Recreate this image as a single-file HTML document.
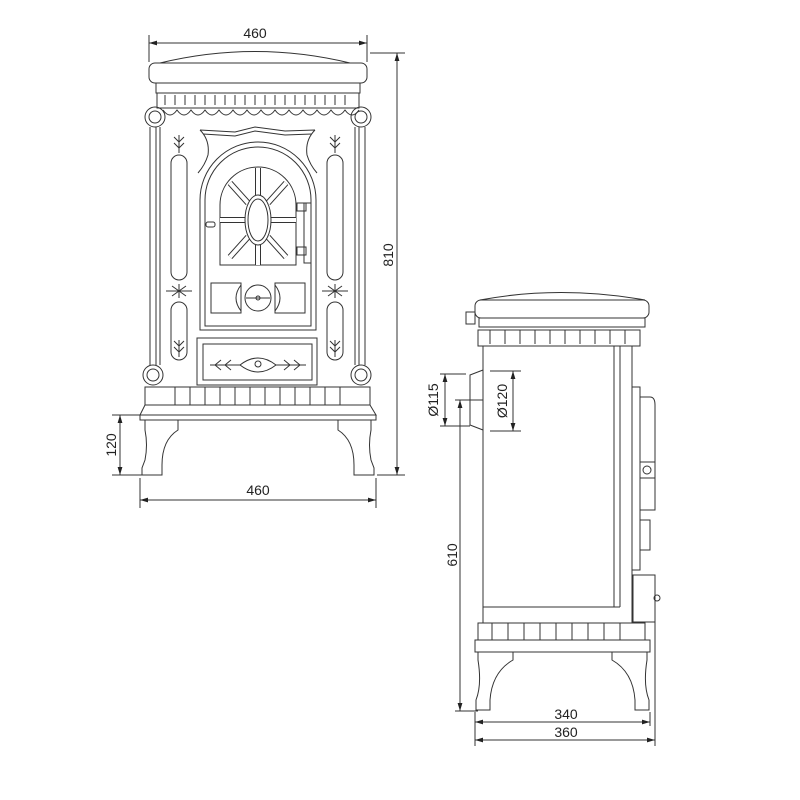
<!DOCTYPE html>
<html><head><meta charset="utf-8"><style>
html,body{margin:0;padding:0;background:#fff;}
svg{display:block}
text{font-family:"Liberation Sans",sans-serif;font-size:14px;fill:#222}
</style></head><body>
<svg width="800" height="800" viewBox="0 0 800 800" xmlns="http://www.w3.org/2000/svg">
<defs>
<marker id="a" viewBox="0 0 10 10" refX="10" refY="5" markerWidth="8" markerHeight="8" orient="auto-start-reverse"><path d="M0,2 L10,5 L0,8 z" fill="#222"/></marker>
</defs>
<g fill="none" stroke="#333" stroke-width="1">
<line x1="149" y1="43" x2="367" y2="43" marker-start="url(#a)" marker-end="url(#a)"/>
<line x1="149" y1="35" x2="149" y2="62"/><line x1="367" y1="35" x2="367" y2="62"/>
<line x1="370" y1="53" x2="405" y2="53"/><line x1="377" y1="475" x2="405" y2="475"/>
<line x1="397" y1="53" x2="397" y2="475" marker-start="url(#a)" marker-end="url(#a)"/>
<line x1="112" y1="415" x2="145" y2="415"/><line x1="112" y1="475" x2="145" y2="475"/>
<line x1="120" y1="415" x2="120" y2="475" marker-start="url(#a)" marker-end="url(#a)"/>
<line x1="140" y1="478" x2="140" y2="508"/><line x1="376" y1="478" x2="376" y2="508"/>
<line x1="140" y1="500" x2="376" y2="500" marker-start="url(#a)" marker-end="url(#a)"/>
<path d="M160,63 Q255,40 350,63"/>
<rect x="149" y="63" width="218" height="20" rx="6"/>
<rect x="156" y="83" width="204" height="10"/>
<rect x="157" y="93" width="202" height="15"/>
<path d="M165,95v10M175,95v10M185,95v10M195,95v10M205,95v10M215,95v10M225,95v10M235,95v10M245,95v10M255,95v10M265,95v10M275,95v10M285,95v10M295,95v10M305,95v10M315,95v10M325,95v10M335,95v10M345,95v10"/>
<path d="M163,110 q7,10 14,0 q7,10 14,0 q7,10 14,0 q7,10 14,0 q7,10 14,0 q7,10 14,0 q7,10 14,0 q7,10 14,0 q7,10 14,0 q7,10 14,0 q7,10 14,0 q7,10 14,0 q7,10 14,0 q7,10 14,0"/>
<circle cx="155" cy="117" r="10"/><circle cx="155" cy="117" r="6"/>
<circle cx="361" cy="117" r="10"/><circle cx="361" cy="117" r="6"/>
<circle cx="153" cy="375" r="10"/><circle cx="153" cy="375" r="6"/>
<circle cx="361" cy="375" r="10"/><circle cx="361" cy="375" r="6"/>
<path d="M150,127V365M156,127V365M160,127V365"/>
<path d="M355,127V365M359,127V365M365,127V365"/>
<rect x="171" y="155" width="16" height="125" rx="8"/>
<rect x="171" y="302" width="16" height="58" rx="8"/>
<rect x="327" y="155" width="16" height="125" rx="8"/>
<rect x="327" y="302" width="16" height="58" rx="8"/>
<path d="M179,135v18M179,142l-5,-5M179,142l5,-5M179,148l-5,-5M179,148l5,-5"/>
<path d="M335,135v18M335,142l-5,-5M335,142l5,-5M335,148l-5,-5M335,148l5,-5"/>
<path d="M166,291h26M179,284v14M172,286l14,10M186,286l-14,10"/>
<path d="M322,291h26M335,284v14M328,286l14,10M342,286l-14,10"/>
<path d="M179,340v17M179,346l-5,-5M179,346l5,-5M179,352l-5,-5M179,352l5,-5"/>
<path d="M335,340v17M335,346l-5,-5M335,346l5,-5M335,352l-5,-5M335,352l5,-5"/>
<path d="M200,130 L235,132 L255,127 L285,131 L315,130 M200,130 q10,10 8,25 q-3,10 -10,18 M315,130 q-10,10 -8,25 q3,10 10,18"/>
<path d="M203,134 L235,136 L255,131 L285,135 L312,134"/>
<path d="M200,330 V200 A58,58 0 0 1 316,200 V330 Z"/>
<path d="M205,326 V200 A53,53 0 0 1 311,200 V326 Z"/>
<path d="M220,265 V205 A38,38 0 0 1 296,205 V265 Z"/>
<path d="M258,168v27M258,245v20M220,220h25M271,220h25M230,183l18,20M286,183l-18,20M230,257l18,-20M286,257l-18,-20" stroke-width="6"/>
<path d="M258,168v27M258,245v20M220,220h25M271,220h25M230,183l18,20M286,183l-18,20M230,257l18,-20M286,257l-18,-20" stroke="#fff" stroke-width="4"/>
<ellipse cx="258" cy="220" rx="13" ry="25" fill="#fff"/>
<ellipse cx="258" cy="220" rx="10" ry="21"/>
<rect x="297" y="203" width="9" height="8"/><rect x="297" y="247" width="9" height="8"/>
<rect x="304" y="203" width="7" height="60"/>
<rect x="206" y="222" width="9" height="5" rx="2"/>
<rect x="211" y="283" width="30" height="30"/><rect x="275" y="283" width="30" height="30"/>
<path d="M241,285 q-10,13 0,26 M275,285 q10,13 0,26"/>
<circle cx="258" cy="298" r="13"/><path d="M246,298h24"/><circle cx="258" cy="298" r="2"/>
<rect x="197" y="338" width="120" height="47"/>
<rect x="203" y="344" width="109" height="36"/>
<path d="M210,365h30M215,365l6,-5M215,365l6,5M225,365l6,-5M225,365l6,5M276,365h30M300,365l-6,-5M300,365l-6,5M290,365l-6,-5M290,365l-6,5"/>
<path d="M240,365 q18,-14 36,0 q-18,14 -36,0"/><circle cx="258" cy="364" r="3"/>
<rect x="145" y="387" width="225" height="18"/>
<path d="M175,387v18M190,387v18M205,387v18M220,387v18M235,387v18M250,387v18M265,387v18M280,387v18M295,387v18M310,387v18M325,387v18M340,387v18"/>
<path d="M145,405 L140,415 H376 L370,405"/>
<path d="M140,415 L376,415 L376,420 L140,420 Z"/>
<path d="M145,420 V430 Q148,445 145,460 L142,468 V475 H162 V465 Q162,440 178,430 V420"/>
<path d="M371,420 V430 Q368,445 371,460 L374,468 V475 H354 V465 Q354,440 338,430 V420"/>
<path d="M480,300 Q560,285 645,300"/>
<rect x="475" y="300" width="174" height="18" rx="6"/>
<rect x="479" y="318" width="166" height="9"/>
<rect x="466" y="312" width="9" height="12"/>
<rect x="478" y="330" width="162" height="16"/>
<path d="M490,330v14M505,330v14M520,330v14M535,330v14M550,330v14M565,330v14M580,330v14M595,330v14M610,330v14M625,330v14"/>
<rect x="483" y="346" width="149" height="277"/>
<path d="M483,607H620M614,346V607M620,346V607"/>
<path d="M483,370 L470,375 V425 L483,430"/>
<rect x="632" y="387" width="8" height="183"/>
<path d="M640,397 H650 Q655,397 655,405 V510 H640"/>
<rect x="640" y="462" width="15" height="16"/><circle cx="647" cy="470" r="4"/>
<rect x="640" y="520" width="10" height="30"/>
<rect x="633" y="575" width="22" height="47"/><circle cx="657" cy="598" r="3"/>
<rect x="478" y="623" width="167" height="17"/>
<path d="M492,623v17M508,623v17M524,623v17M540,623v17M556,623v17M572,623v17M588,623v17M604,623v17M620,623v17"/>
<rect x="475" y="640" width="175" height="12"/>
<path d="M478,652 V660 Q482,685 476,700 V710 H490 V700 Q492,672 513,660 V652"/>
<path d="M647,652 V660 Q643,685 649,700 V710 H635 V700 Q633,672 612,660 V652"/>
<line x1="440" y1="374" x2="466" y2="374"/><line x1="440" y1="426" x2="470" y2="426"/>
<line x1="445" y1="374" x2="445" y2="426" marker-start="url(#a)" marker-end="url(#a)"/>
<line x1="490" y1="371" x2="521" y2="371"/><line x1="490" y1="431" x2="521" y2="431"/>
<line x1="513" y1="371" x2="513" y2="431" marker-start="url(#a)" marker-end="url(#a)"/>
<line x1="455" y1="400" x2="483" y2="400"/><line x1="455" y1="711" x2="478" y2="711"/>
<line x1="460" y1="400" x2="460" y2="711" marker-start="url(#a)" marker-end="url(#a)"/>
<line x1="475" y1="712" x2="475" y2="746"/><line x1="650" y1="712" x2="650" y2="726"/><line x1="655" y1="620" x2="655" y2="746"/>
<line x1="475" y1="722" x2="650" y2="722" marker-start="url(#a)" marker-end="url(#a)"/>
<line x1="475" y1="740" x2="655" y2="740" marker-start="url(#a)" marker-end="url(#a)"/>
</g>
<text x="255" y="38" text-anchor="middle">460</text>
<text x="258" y="495" text-anchor="middle">460</text>
<text transform="translate(393,255) rotate(-90)" text-anchor="middle">810</text>
<text transform="translate(116,445) rotate(-90)" text-anchor="middle">120</text>
<text transform="translate(438,400) rotate(-90)" text-anchor="middle">Ø115</text>
<text transform="translate(507,401) rotate(-90)" text-anchor="middle">Ø120</text>
<text transform="translate(457,555) rotate(-90)" text-anchor="middle">610</text>
<text x="566" y="719" text-anchor="middle">340</text>
<text x="566" y="737" text-anchor="middle">360</text>
</svg>
</body></html>
